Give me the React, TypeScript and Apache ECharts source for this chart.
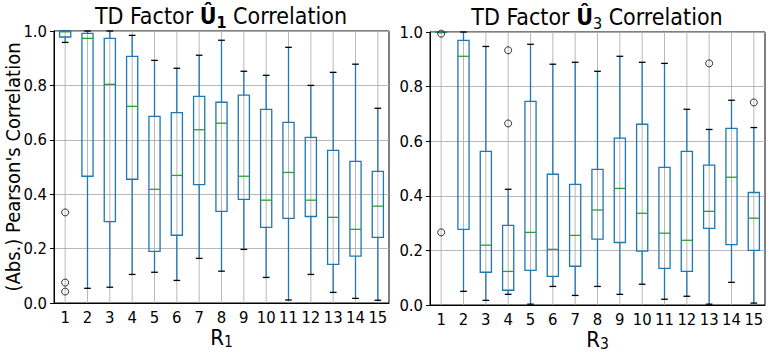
import React, { useEffect, useRef } from "react";
import * as echarts from "echarts";

const categories = ["1","2","3","4","5","6","7","8","9","10","11","12","13","14","15"];

// [min, Q1, median, Q3, max] for U1 vs R1
const boxesU1: number[][] = [
  [0.958, 0.978, 0.997, 1.0, 1.0],
  [0.054, 0.466, 0.973, 0.991, 1.0],
  [0.058, 0.299, 0.804, 0.973, 1.0],
  [0.105, 0.455, 0.723, 0.907, 0.984],
  [0.113, 0.190, 0.418, 0.686, 0.892],
  [0.083, 0.249, 0.469, 0.700, 0.863],
  [0.164, 0.435, 0.637, 0.760, 0.911],
  [0.117, 0.337, 0.661, 0.738, 0.966],
  [0.197, 0.381, 0.466, 0.764, 0.852],
  [0.094, 0.278, 0.378, 0.712, 0.837],
  [0.011, 0.311, 0.480, 0.664, 0.940],
  [0.105, 0.318, 0.378, 0.609, 0.800],
  [0.039, 0.142, 0.315, 0.561, 0.848],
  [0.017, 0.172, 0.271, 0.521, 0.878],
  [0.010, 0.241, 0.356, 0.484, 0.716],
];
// [category index, value]
const outliersU1: number[][] = [
  [0, 0.333], [0, 0.075], [0, 0.042],
];

// [min, Q1, median, Q3, max] for U3 vs R3
const boxesU3: number[][] = [
  [0.998, 0.999, 1.0, 1.0, 1.0],
  [0.050, 0.277, 0.911, 0.969, 1.0],
  [0.017, 0.120, 0.219, 0.563, 0.947],
  [0.039, 0.054, 0.123, 0.292, 0.424],
  [0.003, 0.127, 0.266, 0.746, 0.955],
  [0.068, 0.105, 0.204, 0.479, 0.882],
  [0.035, 0.142, 0.255, 0.442, 0.889],
  [0.068, 0.241, 0.348, 0.497, 0.856],
  [0.039, 0.229, 0.427, 0.611, 0.911],
  [0.076, 0.197, 0.336, 0.662, 0.889],
  [0.021, 0.134, 0.263, 0.504, 0.885],
  [0.032, 0.123, 0.237, 0.563, 0.717],
  [0.003, 0.281, 0.343, 0.512, 0.643],
  [0.083, 0.221, 0.468, 0.647, 0.750],
  [0.007, 0.200, 0.318, 0.412, 0.650],
];
const outliersU3: number[][] = [
  [0, 0.994], [0, 0.266], [3, 0.933], [3, 0.665], [12, 0.885], [14, 0.742],
];

const yTicks = [0, 0.2, 0.4, 0.6, 0.8, 1.0];

const FONT = "'DejaVu Sans Condensed', 'DejaVu Sans'";
const BLUE = "#1f77b4";
const GREEN = "#2ca02c";
const GRIDC = "#b0b0b0";

function renderBox(params: any, api: any) {
  const i = api.value(0);
  const band = api.size([1, 0])[0];
  const bw = band * 0.5;
  const cw = band * 0.3;
  const [xc, yMin] = api.coord([i, api.value(1)]);
  const yQ1 = api.coord([i, api.value(2)])[1];
  const yMed = api.coord([i, api.value(3)])[1];
  const yQ3 = api.coord([i, api.value(4)])[1];
  const yMax = api.coord([i, api.value(5)])[1];
  const yBot = api.coord([i, yTicks[0]])[1];
  const yTop = api.coord([i, yTicks[yTicks.length - 1]])[1];
  const lw = 1.3;
  return {
    type: "group",
    children: [
      { type: "line", shape: { x1: xc, y1: yBot, x2: xc, y2: yTop }, style: { stroke: GRIDC, lineWidth: 0.9 } },
      { type: "line", shape: { x1: xc, y1: yQ1, x2: xc, y2: yMin }, style: { stroke: BLUE, lineWidth: lw } },
      { type: "line", shape: { x1: xc, y1: yQ3, x2: xc, y2: yMax }, style: { stroke: BLUE, lineWidth: lw } },
      { type: "line", shape: { x1: xc - cw / 2, y1: yMin, x2: xc + cw / 2, y2: yMin }, style: { stroke: "#000", lineWidth: lw } },
      { type: "line", shape: { x1: xc - cw / 2, y1: yMax, x2: xc + cw / 2, y2: yMax }, style: { stroke: "#000", lineWidth: lw } },
      { type: "rect", shape: { x: xc - bw / 2, y: yQ3, width: bw, height: yQ1 - yQ3 }, style: { stroke: BLUE, fill: "none", lineWidth: lw } },
      { type: "line", shape: { x1: xc - bw / 2, y1: yMed, x2: xc + bw / 2, y2: yMed }, style: { stroke: GREEN, lineWidth: lw } },
    ],
  };
}

export default function App() {
  const ref = useRef<HTMLDivElement>(null);
  useEffect(() => {
    if (!ref.current) return;
    const chart = echarts.init(ref.current, null, { renderer: "svg" });
    const axisLabelStyle = { fontFamily: FONT, fontSize: 16.5, color: "#000" };
    const subRich = {
      r: { fontFamily: FONT, fontSize: 22, color: "#000", lineHeight: 22 },
      s: { fontFamily: FONT, fontSize: 15.5, color: "#000", lineHeight: 12, padding: [10, 0, 0, 0] },
    };
    const xAxis = (gi: number, sub: string) => ({
      type: "category",
      gridIndex: gi,
      data: categories,
      boundaryGap: true,
      axisLine: { lineStyle: { color: "#000", width: 1 } },
      axisTick: { alignWithLabel: true, length: 4, lineStyle: { color: "#000" } },
      axisLabel: { ...axisLabelStyle, interval: 0, margin: 6, hideOverlap: false },
      splitLine: { show: false },
      name: `{r|R}{s|${sub}}`,
      nameLocation: "middle",
      nameGap: 23,
      nameMoveOverlap: false,
      nameTextStyle: { fontFamily: FONT, fontSize: 22, color: "#000", rich: subRich },
    });
    const yAxis = (gi: number, name: string) => ({
      type: "value",
      gridIndex: gi,
      min: 0,
      max: 1,
      interval: 0.2,
      axisLine: { show: true, lineStyle: { color: "#000", width: 1 } },
      axisTick: { show: true, length: 4, lineStyle: { color: "#000" } },
      axisLabel: { ...axisLabelStyle, margin: 7, formatter: (v: number) => v.toFixed(1) },
      splitLine: { show: true, lineStyle: { color: GRIDC, width: 0.9 } },
      name,
      nameLocation: "middle",
      nameGap: 31,
      nameRotate: 90,
      nameMoveOverlap: false,
      nameTextStyle: { fontFamily: FONT, fontSize: 20, lineHeight: 20, color: "#000" },
    });
    const mkBoxData = (b: number[][]) => b.map((r, i) => [i, ...r]);
    const titleRich = {
      n: { fontFamily: FONT, fontSize: 23, color: "#000", lineHeight: 30 },
      b: { fontFamily: FONT, fontSize: 23, fontWeight: "bold", color: "#000", lineHeight: 30 },
      s: { fontFamily: FONT, fontSize: 16, color: "#000", lineHeight: 18, padding: [12, 0, 0, 0] },
      sb: { fontFamily: FONT, fontSize: 16, fontWeight: "bold", color: "#000", lineHeight: 18, padding: [12, 0, 0, 0] },
    };
    chart.setOption({
      animation: false,
      backgroundColor: "#fff",
      grid: [
        { left: 54, top: 31, width: 335, height: 272, show: true, borderColor: "#000", borderWidth: 1, backgroundColor: "transparent", outerBoundsMode: "none", containLabel: false },
        { left: 430, top: 32, width: 335, height: 273, show: true, borderColor: "#000", borderWidth: 1, backgroundColor: "transparent", outerBoundsMode: "none", containLabel: false },
      ],
      xAxis: [xAxis(0, "1"), xAxis(1, "3")],
      yAxis: [yAxis(0, "(Abs.) Pearson's Correlation"), yAxis(1, "")],
      graphic: [
        { type: "text", x: 221, y: 16, style: { text: "{n|TD Factor }{b|Û}{sb|1}{n| Correlation}", rich: titleRich, align: "center", verticalAlign: "middle" } },
        { type: "text", x: 597, y: 17, style: { text: "{n|TD Factor }{b|Û}{s|3}{n| Correlation}", rich: titleRich, align: "center", verticalAlign: "middle" } },
      ],
      series: [
        { type: "custom", xAxisIndex: 0, yAxisIndex: 0, renderItem: renderBox, data: mkBoxData(boxesU1), encode: { x: 0, y: [1, 2, 3, 4, 5] }, z: 2 },
        { type: "custom", xAxisIndex: 1, yAxisIndex: 1, renderItem: renderBox, data: mkBoxData(boxesU3), encode: { x: 0, y: [1, 2, 3, 4, 5] }, z: 2 },
        { type: "scatter", xAxisIndex: 0, yAxisIndex: 0, data: outliersU1, symbol: "circle", symbolSize: 7, itemStyle: { color: "rgba(0,0,0,0)", borderColor: "#000", borderWidth: 1 }, z: 3 },
        { type: "scatter", xAxisIndex: 1, yAxisIndex: 1, data: outliersU3, symbol: "circle", symbolSize: 7, itemStyle: { color: "rgba(0,0,0,0)", borderColor: "#000", borderWidth: 1 }, z: 3 },
      ],
    });
    return () => chart.dispose();
  }, []);
  return <div ref={ref} style={{ position: "fixed", left: 0, top: 0, width: 773, height: 352 }} />;
}
